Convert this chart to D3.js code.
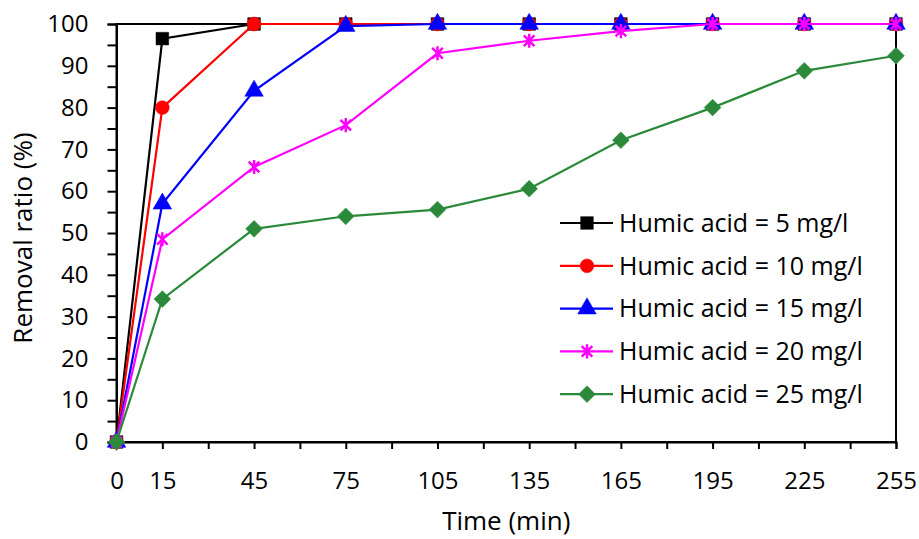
<!DOCTYPE html>
<html>
<head>
<meta charset="utf-8">
<script src="https://cdn.jsdelivr.net/npm/d3@7"></script>
<style>
  body { margin: 0; background: #fff; }
  text { font-family: "Open Sans", "Noto Sans", sans-serif; fill: #000; }
</style>
</head>
<body>
<div id="chart"></div>
<script>
var times = [0, 15, 45, 75, 105, 135, 165, 195, 225, 255];
var tickLabels = [0, 15, 45, 75, 105, 135, 165, 195, 225, 255];
var ha5  = [0, 96.5, 100, 100, 100, 100, 100, 100, 100, 100];
var ha10 = [0, 80, 100, 100, 100, 100, 100, 100, 100, 100];
var ha15 = [0, 57, 84, 99.5, 100, 100, 100, 100, 100, 100];
var ha20 = [0, 48.5, 65.8, 75.8, 93, 96, 98.3, 100, 100, 100];
var ha25 = [0, 34.2, 51, 54, 55.6, 60.6, 72.2, 80, 88.8, 92.4];
var seriesNames = ["Humic acid = 5 mg/l", "Humic acid = 10 mg/l", "Humic acid = 15 mg/l",
                   "Humic acid = 20 mg/l", "Humic acid = 25 mg/l"];

var colors = ["#000000", "#ff0000", "#0000ff", "#ff00ff", "#2a8a3a"];

// excel-like star: X plus a vertical bar
var symbolStar = {
    draw: function (ctx, size) {
        var r = Math.sqrt(size) / 2, k = r * 0.75;
        ctx.moveTo(0, -r); ctx.lineTo(0, r);
        ctx.moveTo(-k, -k); ctx.lineTo(k, k);
        ctx.moveTo(-k, k); ctx.lineTo(k, -k);
    }
};
var symbols = [d3.symbolSquare, d3.symbolCircle, d3.symbolTriangle, symbolStar, d3.symbolDiamond2];
var symSizes = [160, 150, 150, 200, 180];

var series = [ha5, ha10, ha15, ha20, ha25].map(function (vals, i) {
    return { name: seriesNames[i], values: vals.map(function (v, j) { return { t: times[j], v: v }; }) };
});

var width = 919, height = 539;
var margin = { left: 116.5, right: 23, top: 24, bottom: 97 };

var svg = d3.select("#chart").append("svg")
    .attr("width", width)
    .attr("height", height);

var x = d3.scaleLinear().domain([0, 255]).range([margin.left, width - margin.right]);
var y = d3.scaleLinear().domain([0, 100]).range([height - margin.bottom, margin.top]);

// plot border
svg.append("rect")
    .attr("x", x(0)).attr("y", y(100))
    .attr("width", x(255) - x(0)).attr("height", y(0) - y(100))
    .attr("fill", "none").attr("stroke", "#000").attr("stroke-width", 2);

// x axis: ticks every 15, labels on chosen values
var xAxis = d3.axisBottom(x)
    .tickValues(d3.range(0, 256, 15))
    .tickSize(7)
    .tickFormat(function (d) { return tickLabels.indexOf(d) >= 0 ? d : ""; });
var gx = svg.append("g")
    .attr("transform", "translate(0," + y(0) + ")")
    .call(xAxis);
gx.select(".domain").attr("stroke-width", 2);
gx.selectAll(".tick line").attr("stroke-width", 2);
gx.selectAll(".tick text").attr("y", 39).attr("dy", "0.35em")
    .style("font-size", "24px")
    .style("font-family", "'Open Sans', sans-serif");

// y axis: ticks every 5, labels every 10
var yAxis = d3.axisLeft(y)
    .tickValues(d3.range(0, 101, 5))
    .tickSize(9)
    .tickFormat(function (d) { return d % 10 === 0 ? d : ""; });
var gy = svg.append("g")
    .attr("transform", "translate(" + x(0) + ",0)")
    .call(yAxis);
gy.select(".domain").attr("stroke-width", 2);
gy.selectAll(".tick line").attr("stroke-width", 2);
gy.selectAll(".tick text").attr("x", -28).style("font-size", "24px")
    .style("font-family", "'Open Sans', sans-serif");

// axis titles
svg.append("text")
    .attr("x", (x(0) + x(255)) / 2).attr("y", 530)
    .attr("text-anchor", "middle")
    .style("font-size", "26px")
    .text("Time (min)");

svg.append("text")
    .attr("transform", "translate(32,238) rotate(-90)")
    .attr("text-anchor", "middle")
    .style("font-size", "26px")
    .text("Removal ratio (%)");

var line = d3.line()
    .x(function (d) { return x(d.t); })
    .y(function (d) { return y(d.v); });

var gs = svg.selectAll(".series")
    .data(series)
    .enter().append("g")
    .attr("class", "series");

gs.append("path")
    .attr("d", function (d) { return line(d.values); })
    .attr("fill", "none")
    .attr("stroke", function (d, i) { return colors[i]; })
    .attr("stroke-width", 2.2);

gs.each(function (d, i) {
    var sym = d3.symbol().type(symbols[i]).size(symSizes[i]);
    d3.select(this).selectAll(".mark")
        .data(d.values)
        .enter().append("path")
        .attr("class", "mark")
        .attr("transform", function (p) { return "translate(" + x(p.t) + "," + y(p.v) + ")"; })
        .attr("d", sym)
        .attr("fill", i === 3 ? "none" : colors[i])
        .attr("stroke", colors[i])
        .attr("stroke-width", i === 3 ? 2.5 : 0.5);
});

// legend
var legend = svg.append("g").attr("transform", "translate(560,223)");
var items = legend.selectAll(".item")
    .data(series)
    .enter().append("g")
    .attr("class", "item")
    .attr("transform", function (d, i) { return "translate(0," + (i * 42.8) + ")"; });

items.append("line")
    .attr("x1", 0).attr("x2", 53)
    .attr("stroke", function (d, i) { return colors[i]; })
    .attr("stroke-width", 2.2);

items.append("path")
    .attr("transform", "translate(27,0)")
    .attr("d", function (d, i) { return d3.symbol().type(symbols[i]).size(symSizes[i])(); })
    .attr("fill", function (d, i) { return i === 3 ? "none" : colors[i]; })
    .attr("stroke", function (d, i) { return colors[i]; })
    .attr("stroke-width", function (d, i) { return i === 3 ? 2.5 : 0.5; });

items.append("text")
    .attr("x", 59).attr("dy", "0.35em")
    .style("font-size", "25px")
    .text(function (d) { return d.name; });
</script>
</body>
</html>
